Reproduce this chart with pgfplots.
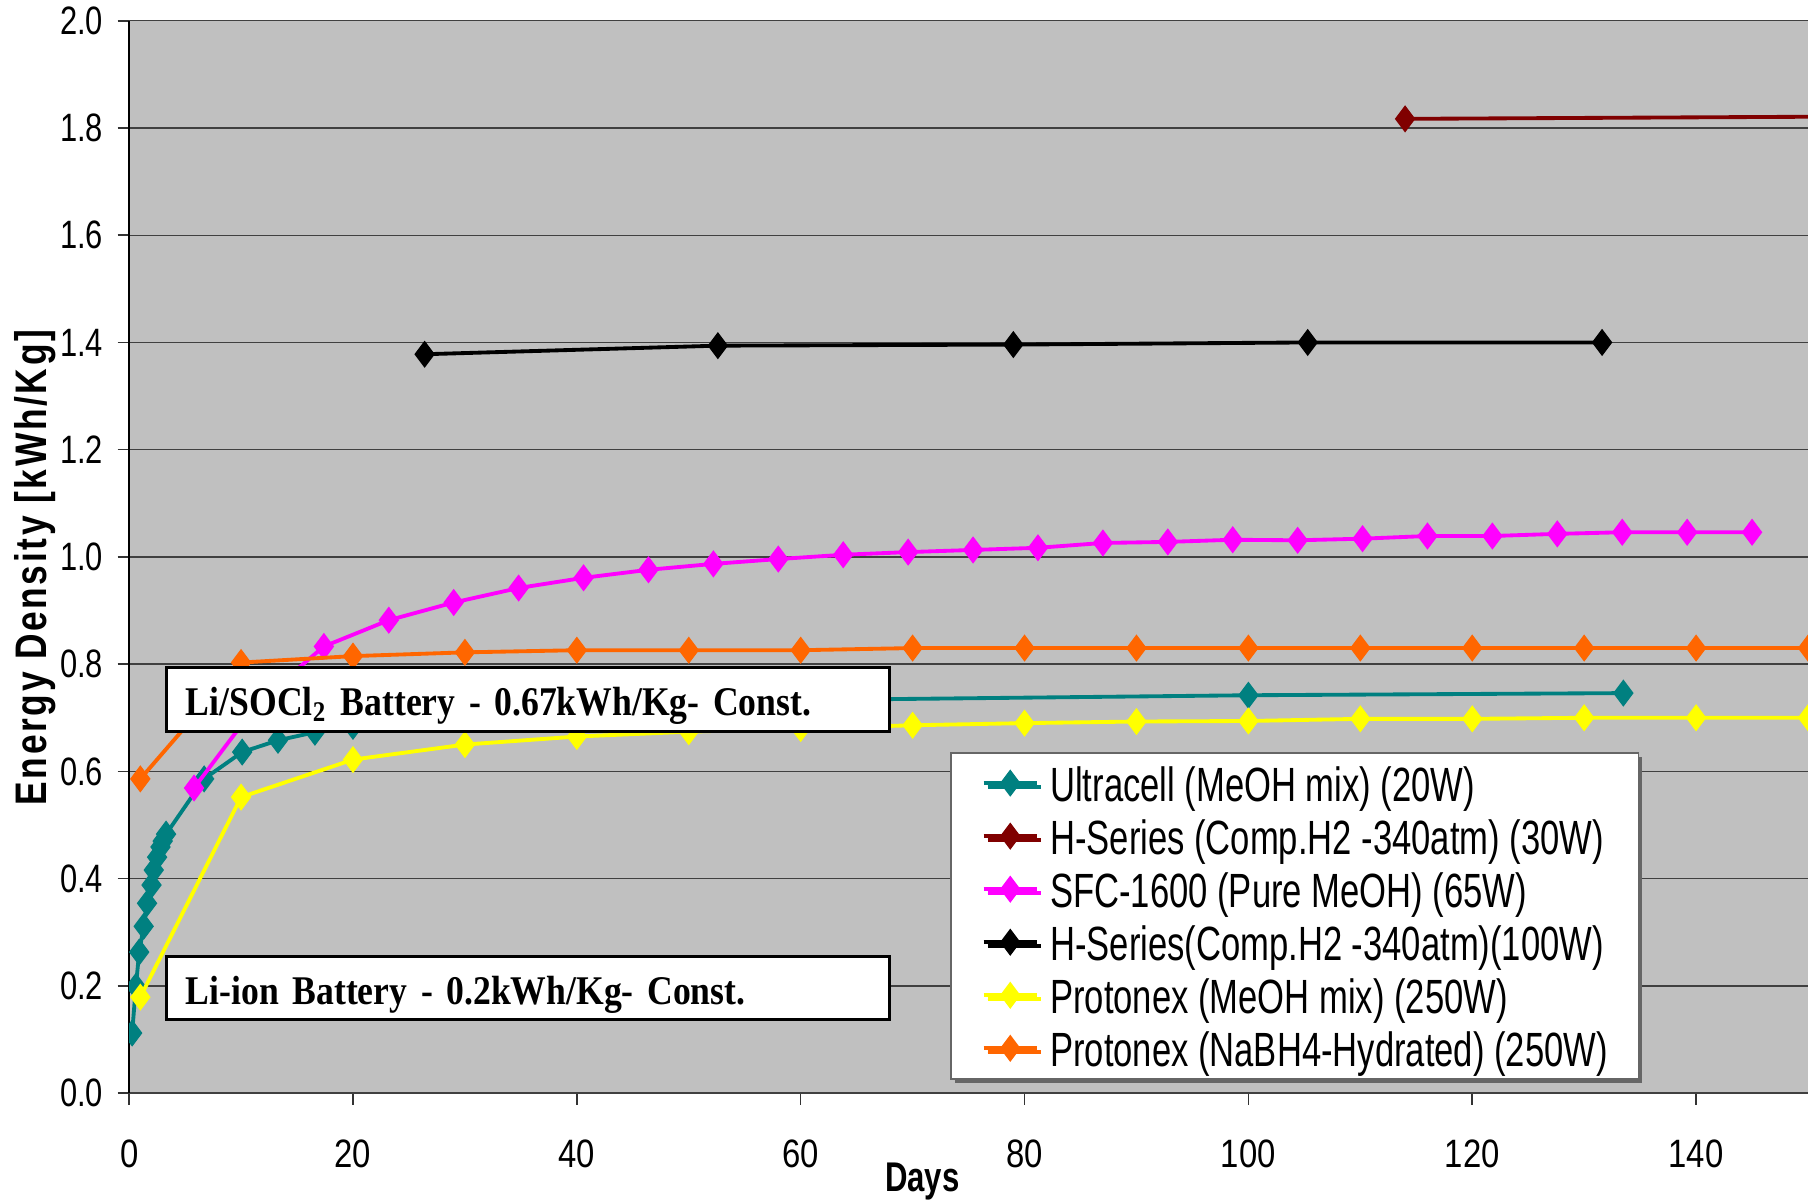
\documentclass[border=0pt]{standalone}
\usepackage{fontspec}
\setmainfont{Liberation Sans}
\newfontfamily\tickfont{Liberation Sans}[FakeStretch=0.83]
\newfontfamily\ytickfont{Liberation Sans}[FakeStretch=0.78]
\newfontfamily\legfont{Liberation Sans}[FakeStretch=0.72]
\newfontfamily\daysfont{Liberation Sans}[FakeStretch=0.75]
\newfontfamily\ylabfont{Liberation Sans}[FakeStretch=0.8, LetterSpace=6]
\newfontfamily\boxfont{Liberation Serif}[FakeStretch=0.875, WordSpace=0.7]
\usepackage{pgfplots}
\pgfplotsset{compat=1.18}
\usetikzlibrary{shadows}
\definecolor{plotbg}{HTML}{C0C0C0}
\definecolor{cteal}{HTML}{008080}
\definecolor{cdred}{HTML}{800000}
\definecolor{cmag}{HTML}{FF00FF}
\definecolor{cyel}{HTML}{FFFF00}
\definecolor{corg}{HTML}{FF6600}
\begin{document}
\begin{tikzpicture}
\begin{axis}[
  scale only axis, width=436.8pt, height=279pt,
  xmin=0, xmax=150, ymin=0, ymax=2,
  xtick={0,20,40,60,80,100,120,140},
  ytick={0,0.2,0.4,0.6,0.8,1.0,1.2,1.4,1.6,1.8,2.0},
  axis lines*=left,
  x axis line style={draw=black!75, line width=0.7pt},
  y axis line style={draw=black, line width=0.4pt},
  axis background/.style={fill=plotbg},
  ymajorgrids, major grid style={draw=black!75, line width=0.35pt},
  tick align=outside, major tick length=3pt,
  tick style={draw=black!80, line width=0.4pt},
  clip marker paths=true,
  /pgf/number format/assume math mode=true,
  xticklabel style={font=\tickfont\fontsize{10.3}{12}\selectfont, inner sep=0pt, anchor=north, yshift=-9pt},
  yticklabel style={font=\ytickfont\fontsize{10.3}{12}\selectfont, inner sep=0pt, anchor=east, xshift=-3.6pt,
    /pgf/number format/fixed, /pgf/number format/fixed zerofill, /pgf/number format/precision=1},
  xlabel={Days},
  xlabel style={at={(axis description cs:0.4725,-0.0645)}, anchor=north, inner sep=0pt,
    font=\daysfont\bfseries\fontsize{10.8}{12}\selectfont},
  ylabel={Energy Density [kWh/Kg]},
  ylabel style={at={(axis description cs:-0.0685,0.49)}, anchor=north, inner sep=0pt,
    font=\ylabfont\bfseries\fontsize{11.5}{12}\selectfont},
  legend style={
    at={(axis description cs:0.489,0.3183)}, anchor=north west,
    fill=white, draw=black!60, line width=0.5pt,
    inner xsep=8pt, inner ysep=1pt,
    row sep=0pt, column sep=3pt,
    font=\legfont\fontsize{12.5}{14}\selectfont,
    nodes={inner sep=0pt, text height=11.6pt, text depth=2.2pt},
    drop shadow={shadow xshift=1pt, shadow yshift=-1pt, fill=black!60, opacity=1},
  },
  legend cell align=left,
  legend image code/.code={\draw[mark repeat=2,mark phase=2,#1] plot coordinates {(0pt,0pt) (6.9pt,0pt) (13.8pt,0pt)};},
  every axis plot/.append style={line width=1pt, mark=diamond*, mark size=3.3pt, mark options={solid, line width=0.3pt}},
]
\addplot[color=cteal] coordinates {
(0.27,0.112) (0.6,0.199) (0.9,0.263) (1.3,0.311) (1.6,0.354) (2.0,0.388) (2.2,0.416)
(2.5,0.440) (2.8,0.459) (3.0,0.470) (3.3,0.483) (6.7,0.586) (10.1,0.636) (13.3,0.658)
(16.6,0.673) (20,0.684) (30,0.705) (40,0.717) (50,0.725) (60,0.733) (100,0.742) (133.5,0.746)};
\addlegendentry{Ultracell (MeOH mix) (20W)}
\addplot[color=cdred] coordinates {(114.0,1.817) (160,1.822)};
\addlegendentry{H-Series (Comp.H2 -340atm) (30W)}
\addplot[color=cmag] coordinates {
(5.8,0.569) (11.6,0.730) (17.4,0.833) (23.2,0.882) (29.0,0.915) (34.8,0.942) (40.6,0.961)
(46.4,0.976) (52.2,0.987) (58.0,0.996) (63.8,1.004) (69.6,1.009) (75.4,1.013) (81.2,1.017)
(87.0,1.026) (92.8,1.028) (98.6,1.032) (104.4,1.031) (110.2,1.034) (116.0,1.039) (121.8,1.039)
(127.6,1.043) (133.4,1.046) (139.2,1.046) (145.0,1.046)};
\addlegendentry{SFC-1600 (Pure MeOH) (65W)}
\addplot[color=black] coordinates {(26.4,1.378) (52.6,1.394) (79.0,1.396) (105.3,1.400) (131.6,1.400)};
\addlegendentry{H-Series(Comp.H2 -340atm)(100W)}
\addplot[color=cyel] coordinates {
(1,0.179) (10,0.552) (20,0.622) (30,0.650) (40,0.665) (50,0.674) (60,0.680) (70,0.686)
(80,0.690) (90,0.693) (100,0.694) (110,0.698) (120,0.698) (130,0.700) (140,0.700) (150,0.700)};
\addlegendentry{Protonex (MeOH mix) (250W)}
\addplot[color=corg] coordinates {
(1,0.586) (10,0.803) (20,0.815) (30,0.822) (40,0.826) (50,0.826) (60,0.826) (70,0.830)
(80,0.830) (90,0.830) (100,0.830) (110,0.830) (120,0.830) (130,0.830) (140,0.830) (150,0.830)};
\addlegendentry{Protonex (NaBH4-Hydrated) (250W)}
\node[draw=black, line width=0.8pt, fill=white, anchor=north west, minimum height=16.5pt,
  text width=178pt, inner xsep=5.1pt, inner ysep=0pt, align=left, text height=10pt, text depth=1.6pt,
  font=\boxfont\bfseries\fontsize{10.6}{12}\selectfont] at (axis cs:3.19,0.796)
  {Li/SOCl\textsubscript{2} Battery - 0.67kWh/Kg- Const.};
\node[draw=black, line width=0.8pt, fill=white, anchor=north west, minimum height=16.5pt,
  text width=178pt, inner xsep=5.1pt, inner ysep=0pt, align=left, text height=10pt, text depth=1.6pt,
  font=\boxfont\bfseries\fontsize{10.6}{12}\selectfont] at (axis cs:3.19,0.258)
  {Li-ion Battery - 0.2kWh/Kg- Const.};
\end{axis}
\pgfresetboundingbox
\path[use as bounding box] ([xshift=-33.6pt,yshift=-27.6pt]current axis.south west) rectangle ([yshift=5.4pt]current axis.north east);
\end{tikzpicture}
\end{document}
